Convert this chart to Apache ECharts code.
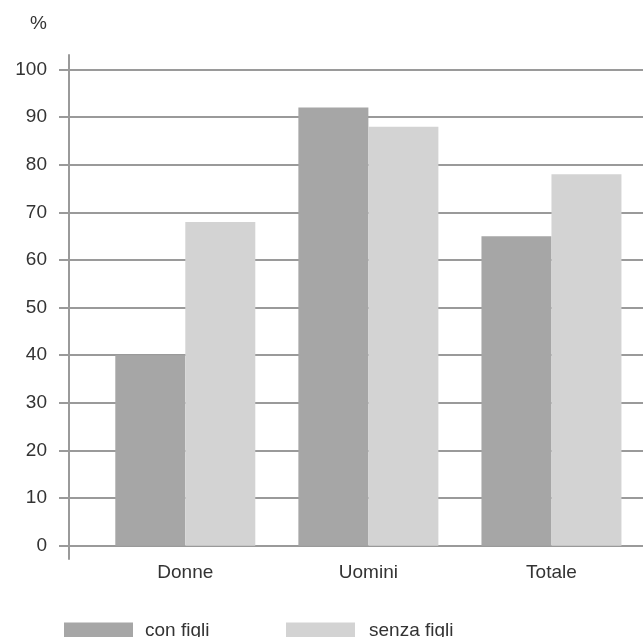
<!DOCTYPE html>
<html>
<head>
<meta charset="utf-8">
<script src="https://cdn.jsdelivr.net/npm/echarts@6/dist/echarts.min.js"></script>
<style>
  html, body { margin: 0; padding: 0; background: #ffffff; }
  #chart { width: 643px; height: 637px; }
</style>
</head>
<body>
<div id="chart"></div>
<script>
// Categories and series values (percentages)
const categories = ['Donne', 'Uomini', 'Totale'];
const conFigli = [40, 92, 65];
const senzaFigli = [68, 88, 78];
const seriesNames = ['con figli', 'senza figli'];
const yTicks = [0, 10, 20, 30, 40, 50, 60, 70, 80, 90, 100];

const FONT = '"Liberation Sans", Arial, Helvetica, sans-serif';
const FS = 19;
const TEXT = '#333333';
const LINE = '#9a9a9a';
const DARK = '#a6a6a6';
const LIGHT = '#d3d3d3';

const chart = echarts.init(document.getElementById('chart'));

const plotTop = 69.5;
const plotBottom = 91.3;

chart.setOption({
  animation: false,
  backgroundColor: '#ffffff',
  textStyle: { fontFamily: FONT },
  title: {
    text: '%',
    left: 30,
    top: 14,
    padding: 0,
    textStyle: { fontFamily: FONT, fontSize: FS, fontWeight: 'normal', color: TEXT }
  },
  legend: [
    {
      data: [seriesNames[0]],
      left: 64, top: 621, padding: 0,
      itemWidth: 69, itemHeight: 16, icon: 'rect',
      textStyle: { fontFamily: FONT, fontSize: FS, color: TEXT, padding: [0, 0, 0, 7] }
    },
    {
      data: [seriesNames[1]],
      left: 286, top: 621, padding: 0,
      itemWidth: 69, itemHeight: 16, icon: 'rect',
      textStyle: { fontFamily: FONT, fontSize: FS, color: TEXT, padding: [0, 0, 0, 9] }
    }
  ],
  grid: [
    // horizontal rules and value labels
    { left: 69, right: 0, top: plotTop, bottom: plotBottom },
    // vertical axis line, slightly longer than the plot
    { left: 69, right: 0, top: 55, bottom: 78 },
    // bars
    { left: 93.75, right: -4.25, top: plotTop, bottom: plotBottom }
  ],
  xAxis: [
    { gridIndex: 0, type: 'category', data: categories, show: false },
    { gridIndex: 1, type: 'category', data: categories, show: false },
    {
      gridIndex: 2, type: 'category', data: categories,
      axisLine: { show: false }, axisTick: { show: false },
      axisLabel: { margin: 18, fontFamily: FONT, fontSize: FS, color: TEXT }
    }
  ],
  yAxis: [
    {
      gridIndex: 0, type: 'value', min: yTicks[0], max: yTicks[yTicks.length - 1], interval: 10,
      axisLine: { show: false },
      axisTick: { show: true, length: 10, lineStyle: { color: LINE, width: 2 } },
      splitLine: { show: true, lineStyle: { color: LINE, width: 2 } },
      axisLabel: { margin: 22, fontFamily: FONT, fontSize: FS, color: TEXT }
    },
    {
      gridIndex: 1, type: 'value', min: 0, max: 1,
      axisLine: { show: true, lineStyle: { color: LINE, width: 2 } },
      axisTick: { show: false }, axisLabel: { show: false }, splitLine: { show: false }
    },
    {
      gridIndex: 2, type: 'value', min: 0, max: 100, show: false,
      splitLine: { show: false }
    }
  ],
  series: [
    {
      name: seriesNames[0], type: 'bar', xAxisIndex: 2, yAxisIndex: 2,
      data: conFigli, barWidth: 70, barGap: '0%',
      itemStyle: { color: DARK }
    },
    {
      name: seriesNames[1], type: 'bar', xAxisIndex: 2, yAxisIndex: 2,
      data: senzaFigli, barWidth: 70, barGap: '0%',
      itemStyle: { color: LIGHT }
    }
  ]
});
</script>
</body>
</html>
